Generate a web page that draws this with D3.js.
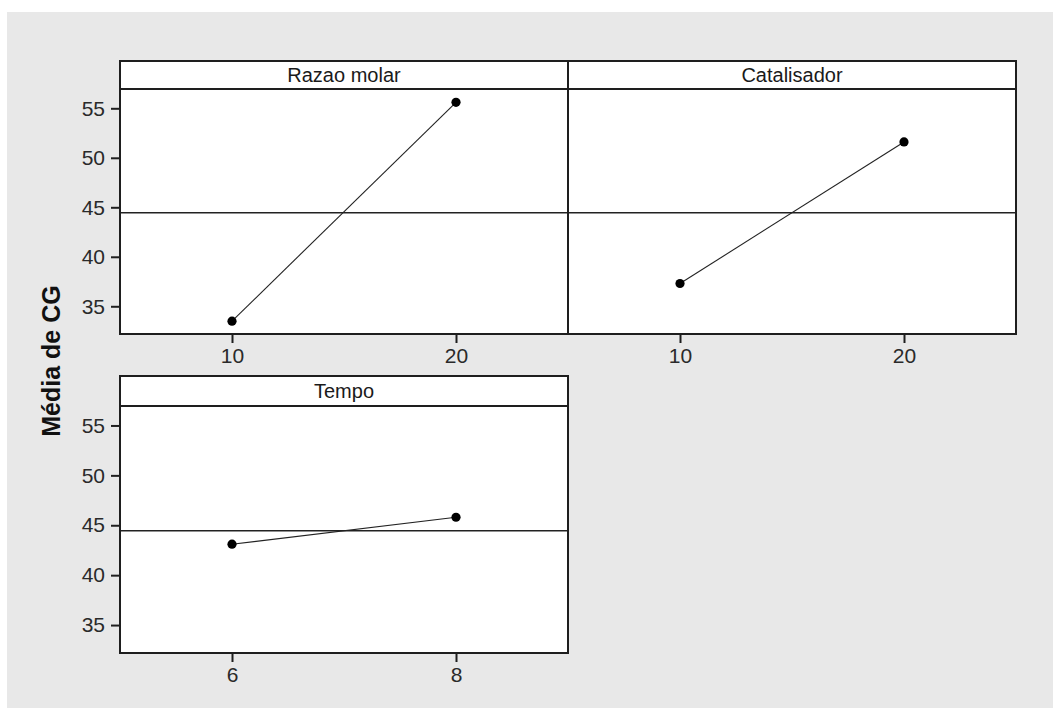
<!DOCTYPE html>
<html>
<head>
<meta charset="utf-8">
<script src="https://cdn.jsdelivr.net/npm/d3@7"></script>
<style>
  html, body { margin: 0; padding: 0; background: #ffffff; }
  svg { display: block; }
</style>
</head>
<body>
<svg id="chart" width="1053" height="708"></svg>
<script>
// ---- Data ----
const factors = ["Razao molar", "Catalisador", "Tempo"];
const levels = [[10, 20], [10, 20], [6, 8]];
const levelMeans = [[33.5, 55.6], [37.3, 51.6], [43.1, 45.8]];
const xTickLabels = [["10", "20"], ["10", "20"], ["6", "8"]];
const yTicks = [35, 40, 45, 50, 55];
const grandMean = 44.45;
const yLabel = "Média de CG";

// ---- Layout ----
const svg = d3.select("#chart");
const W = 1053, H = 708;
svg.append("rect").attr("x", 0).attr("y", 0).attr("width", W).attr("height", H).attr("fill", "#ffffff");
svg.append("rect").attr("x", 7).attr("y", 12).attr("width", W - 7).attr("height", H - 12).attr("fill", "#e8e8e8");

const panels = [
  { x0: 120, x1: 568, hTop: 61, pTop: 89, pBot: 334, yAxis: true },
  { x0: 568, x1: 1016, hTop: 61, pTop: 89, pBot: 334, yAxis: false },
  { x0: 120, x1: 568, hTop: 376, pTop: 406, pBot: 653, yAxis: true }
];
const yDomain = [32.2, 56.95];
const frameColor = "#1e1e1e";
const tickFont = "'Liberation Sans', Arial, sans-serif";

panels.forEach((p, i) => {
  const g = svg.append("g");
  const lv = levels[i];
  const half = (lv[1] - lv[0]) / 2;
  const x = d3.scaleLinear().domain([lv[0] - half, lv[1] + half]).range([p.x0, p.x1]);
  const y = d3.scaleLinear().domain(yDomain).range([p.pBot, p.pTop]);

  g.append("rect").attr("x", p.x0).attr("y", p.hTop).attr("width", p.x1 - p.x0).attr("height", p.pBot - p.hTop)
    .attr("fill", "#ffffff");

  g.append("line").attr("x1", p.x0).attr("x2", p.x1).attr("y1", y(grandMean)).attr("y2", y(grandMean))
    .attr("stroke", "#222").attr("stroke-width", 1.3);

  const pts = lv.map((v, k) => [v, levelMeans[i][k]]);
  g.append("path").datum(pts)
    .attr("d", d3.line().x(d => x(d[0])).y(d => y(d[1])))
    .attr("fill", "none").attr("stroke", "#222").attr("stroke-width", 1.1);
  g.selectAll("circle.pt").data(pts).enter().append("circle")
    .attr("cx", d => x(d[0])).attr("cy", d => y(d[1])).attr("r", 4.6).attr("fill", "#000");

  g.append("rect").attr("x", p.x0).attr("y", p.hTop).attr("width", p.x1 - p.x0).attr("height", p.pBot - p.hTop)
    .attr("fill", "none").attr("stroke", frameColor).attr("stroke-width", 2);
  g.append("line").attr("x1", p.x0).attr("x2", p.x1).attr("y1", p.pTop).attr("y2", p.pTop)
    .attr("stroke", frameColor).attr("stroke-width", 2);

  g.append("text").attr("x", (p.x0 + p.x1) / 2).attr("y", (p.hTop + p.pTop) / 2 + 7)
    .attr("text-anchor", "middle").attr("font-family", tickFont).attr("font-size", 20)
    .attr("fill", "#1a1a1a").text(factors[i]);

  const xAxis = d3.axisBottom(x).tickValues(lv).tickSize(8).tickPadding(6)
    .tickFormat((d, k) => xTickLabels[i][k]);
  const gx = g.append("g").attr("transform", `translate(0,${p.pBot})`).call(xAxis);
  gx.select(".domain").remove();
  gx.selectAll(".tick line").attr("stroke", frameColor).attr("stroke-width", 2).attr("transform", "translate(0,1)");
  gx.selectAll(".tick text").attr("font-family", tickFont).attr("font-size", 21).attr("fill", "#2a2a2a");

  if (p.yAxis) {
    const yAxis = d3.axisLeft(y).tickValues(yTicks).tickSize(8).tickPadding(7).tickFormat(d3.format("d"));
    const gy = g.append("g").attr("transform", `translate(${p.x0},0)`).call(yAxis);
    gy.select(".domain").remove();
    gy.selectAll(".tick line").attr("stroke", frameColor).attr("stroke-width", 2).attr("transform", "translate(-1,0)");
    gy.selectAll(".tick text").attr("font-family", tickFont).attr("font-size", 21).attr("fill", "#2a2a2a");
  }
});

svg.append("text")
  .attr("transform", "translate(60,361) rotate(-90)")
  .attr("text-anchor", "middle")
  .attr("font-family", "'Liberation Sans', Arial, sans-serif")
  .attr("font-weight", "bold").attr("font-size", 25).attr("fill", "#111")
  .text(yLabel);
</script>
</body>
</html>
